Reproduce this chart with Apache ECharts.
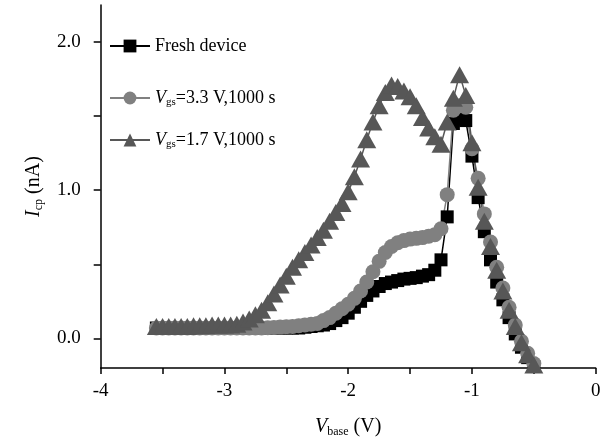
<!DOCTYPE html>
<html>
<head>
<meta charset="utf-8">
<script src="https://cdn.jsdelivr.net/npm/echarts@6/dist/echarts.min.js"></script>
<style>
  html, body { margin: 0; padding: 0; background: #fff; }
  #chart { width: 605px; height: 443px; }
</style>
</head>
<body>
<div id="chart"></div>
<script>
// base voltage sweep (V)
const vBase = [
  -3.55, -3.50, -3.45, -3.40, -3.35, -3.30, -3.25, -3.20, -3.15, -3.10,
  -3.05, -3.00, -2.95, -2.90, -2.85, -2.80, -2.75, -2.70, -2.65, -2.60,
  -2.55, -2.50, -2.45, -2.40, -2.35, -2.30, -2.25, -2.20, -2.15, -2.10,
  -2.05, -2.00, -1.95, -1.90, -1.85, -1.80, -1.75, -1.70, -1.65, -1.60,
  -1.55, -1.50, -1.45, -1.40, -1.35, -1.30, -1.25, -1.20, -1.15, -1.10,
  -1.05, -1.00, -0.95, -0.90, -0.85, -0.80, -0.75, -0.70, -0.65, -0.60,
  -0.55, -0.50
];
// Icp (nA)
const fresh = [
  0.07, 0.07, 0.07, 0.07, 0.07, 0.07, 0.07, 0.07, 0.07, 0.07,
  0.07, 0.07, 0.07, 0.07, 0.07, 0.07, 0.07, 0.07, 0.07, 0.07,
  0.07, 0.07, 0.07, 0.07, 0.075, 0.08, 0.085, 0.09, 0.10, 0.12,
  0.14, 0.17, 0.21, 0.25, 0.29, 0.32, 0.35, 0.37, 0.38, 0.39,
  0.40, 0.405, 0.41, 0.42, 0.43, 0.46, 0.53, 0.82, 1.45, 1.48,
  1.47, 1.23, 0.95, 0.72, 0.53, 0.38, 0.26, 0.14, 0.03, -0.06,
  -0.13, -0.19
];
const vgs33 = [
  0.07, 0.07, 0.07, 0.07, 0.07, 0.07, 0.07, 0.07, 0.07, 0.07,
  0.07, 0.07, 0.07, 0.07, 0.07, 0.07, 0.07, 0.07, 0.072, 0.074,
  0.076, 0.078, 0.08, 0.085, 0.09, 0.095, 0.10, 0.12, 0.14, 0.17,
  0.20, 0.23, 0.27, 0.32, 0.38, 0.45, 0.52, 0.58, 0.62, 0.645,
  0.66, 0.67, 0.675, 0.68, 0.69, 0.70, 0.74, 0.97, 1.54, 1.57,
  1.56, 1.28, 1.08, 0.84, 0.65, 0.48, 0.34, 0.21, 0.09, -0.02,
  -0.10, -0.17
];
const vgs17 = [
  0.08, 0.08, 0.08, 0.08, 0.08, 0.08, 0.085, 0.085, 0.085, 0.09,
  0.09, 0.09, 0.09, 0.095, 0.11, 0.13, 0.16, 0.19, 0.24, 0.30,
  0.36, 0.42, 0.48, 0.53, 0.58, 0.63, 0.68, 0.73, 0.79, 0.85,
  0.91, 0.99, 1.09, 1.21, 1.34, 1.46, 1.57, 1.66, 1.71, 1.70,
  1.67, 1.63, 1.57, 1.49, 1.42, 1.36, 1.31, 1.46, 1.62, 1.78,
  1.64, 1.32, 1.02, 0.79, 0.62, 0.46, 0.32, 0.19, 0.08, -0.03,
  -0.11, -0.18
];

const xTicks = [-4, -3.5, -3, -2.5, -2, -1.5, -1, -0.5, 0];
const xLabels = [-4, -3, -2, -1, 0];
const yTicks = [0, 0.5, 1, 1.5, 2];
const yLabels = [0, 1, 2];

const names = ['Fresh device', 'Vgs=3.3 V,1000 s', 'Vgs=1.7 V,1000 s'];
const legendText = {
  'Fresh device': '{t|Fresh device}',
  'Vgs=3.3 V,1000 s': '{v|V}{s|gs}{t|=3.3 V,1000 s}',
  'Vgs=1.7 V,1000 s': '{v|V}{s|gs}{t|=1.7 V,1000 s}'
};

const serif = '"Liberation Serif", "Times New Roman", serif';
const rich = {
  t: { fontFamily: serif, fontSize: 18, color: '#000', lineHeight: 20 },
  v: { fontFamily: serif, fontSize: 18, fontStyle: 'italic', color: '#000', lineHeight: 20 },
  s: { fontFamily: serif, fontSize: 11, color: '#000', lineHeight: 20, verticalAlign: 'bottom', padding: [13, 0, 0, 0] }
};
const nameRich = {
  t: { fontFamily: serif, fontSize: 20, color: '#000', lineHeight: 22 },
  v: { fontFamily: serif, fontSize: 20, fontStyle: 'italic', color: '#000', lineHeight: 22 },
  s: { fontFamily: serif, fontSize: 12, color: '#000', lineHeight: 22, verticalAlign: 'bottom', padding: [13, 0, 0, 0] }
};

const pairs = (ys) => vBase.map((v, i) => [v, ys[i]]);

const myChart = echarts.init(document.getElementById('chart'));

const legendItem = (name, top) => ({
  data: [name],
  left: 109,
  top: top,
  padding: 0,
  itemWidth: 40,
  itemHeight: 16,
  itemGap: 0,
  formatter: (n) => legendText[n],
  textStyle: { rich: rich }
});

let option = {
  animation: false,
  backgroundColor: '#fff',
  grid: { left: 100.7, right: 9.3, top: 5, bottom: 74 },
  legend: [
    legendItem(names[0], 37),
    legendItem(names[1], 84),
    legendItem(names[2], 126)
  ],
  xAxis: {
    type: 'value',
    min: -4,
    max: 0,
    name: '{v|V}{s|base}{t| (V)}',
    nameLocation: 'middle',
    nameGap: 48,
    nameTextStyle: { rich: nameRich },
    splitLine: { show: false },
    axisLine: { onZero: false, lineStyle: { color: '#000', width: 1.5 } },
    axisTick: { customValues: xTicks, length: 6, lineStyle: { color: '#000', width: 1.5 } },
    axisLabel: {
      customValues: xLabels,
      margin: 14,
      fontFamily: serif,
      fontSize: 19,
      color: '#000',
      formatter: (v) => String(v)
    }
  },
  yAxis: {
    type: 'value',
    min: -0.2,
    max: 2.25,
    name: '{v|I}{s|cp}{t| (nA)}',
    nameLocation: 'middle',
    nameGap: 56,
    nameTextStyle: { rich: nameRich },
    splitLine: { show: false },
    axisLine: { show: true, onZero: false, lineStyle: { color: '#000', width: 1.5 } },
    axisTick: { customValues: yTicks, length: 7, lineStyle: { color: '#000', width: 1.5 } },
    axisLabel: {
      customValues: yLabels,
      margin: 20,
      fontFamily: serif,
      fontSize: 19,
      color: '#000',
      formatter: (v) => v.toFixed(1)
    }
  },
  series: [
    {
      name: names[0],
      type: 'line',
      data: pairs(fresh),
      symbol: 'rect',
      symbolSize: 13,
      showAllSymbol: true,
      itemStyle: { color: '#000' },
      lineStyle: { color: '#000', width: 1.5 }
    },
    {
      name: names[1],
      type: 'line',
      data: pairs(vgs33),
      symbol: 'circle',
      symbolSize: 15,
      showAllSymbol: true,
      itemStyle: { color: '#808080' },
      lineStyle: { color: '#808080', width: 1.5 }
    },
    {
      name: names[2],
      type: 'line',
      data: pairs(vgs17),
      symbol: 'triangle',
      symbolSize: [19, 17],
      showAllSymbol: true,
      itemStyle: { color: '#575757' },
      lineStyle: { color: '#575757', width: 1.5 }
    }
  ]
};

option && myChart.setOption(option);
</script>
</body>
</html>
